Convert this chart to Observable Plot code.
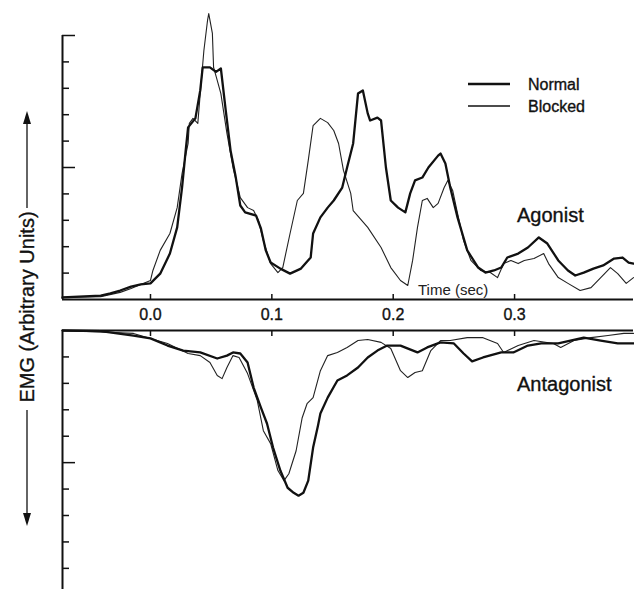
<!DOCTYPE html>
<html>
<head>
<meta charset="utf-8">
<script src="https://cdn.jsdelivr.net/npm/d3@7"></script>
<script src="https://cdn.jsdelivr.net/npm/@observablehq/plot@0.6"></script>
<style>
  html, body { margin: 0; padding: 0; background: #fff; overflow: hidden; }
  #chart { position: relative; width: 634px; height: 589px; font-family: "Liberation Sans", Arial, sans-serif; }
  #chart svg { position: absolute; left: 0; }
</style>
</head>
<body>
<div id="chart"></div>
<script>
// ---- Data (time in seconds, EMG in arbitrary units) ----
const agonistNormalT = [-0.0725,-0.041,-0.033,-0.025,-0.016,-0.008,0,0.008,0.016,0.022,0.026,0.029,0.031,0.037,0.041,0.043,0.049,0.054,0.058,0.062,0.066,0.070,0.074,0.078,0.087,0.091,0.095,0.099,0.107,0.115,0.124,0.132,0.134,0.140,0.146,0.151,0.158,0.162,0.167,0.171,0.175,0.179,0.181,0.187,0.190,0.194,0.198,0.204,0.210,0.214,0.218,0.224,0.229,0.237,0.239,0.243,0.247,0.253,0.261,0.270,0.276,0.283,0.289,0.294,0.303,0.311,0.320,0.327,0.336,0.344,0.350,0.357,0.365,0.373,0.382,0.389,0.394,0.398];
const agonistNormalV = [0.08,0.15,0.23,0.34,0.49,0.57,0.61,0.98,1.74,2.73,4.24,5.64,6.52,6.86,7.92,8.79,8.79,8.62,8.75,7.16,5.64,4.70,3.56,3.30,3.18,2.69,1.86,1.40,1.17,0.98,1.17,1.59,2.50,3.11,3.48,3.75,4.24,5.00,5.91,7.80,7.92,7.05,6.78,6.89,6.78,5.00,3.75,3.48,3.30,4.02,4.51,4.62,5.00,5.45,5.53,5.15,4.24,3.11,1.86,1.21,1.02,1.10,1.21,1.59,1.74,1.97,2.35,2.12,1.48,1.10,0.91,1.02,1.17,1.29,1.55,1.59,1.40,1.36];

const agonistBlockedT = [-0.0725,-0.041,-0.025,-0.016,-0.008,0,0.002,0.008,0.016,0.022,0.026,0.031,0.032,0.035,0.039,0.041,0.044,0.047,0.048,0.051,0.052,0.055,0.058,0.063,0.068,0.074,0.080,0.085,0.089,0.093,0.099,0.105,0.109,0.115,0.121,0.126,0.130,0.134,0.140,0.146,0.151,0.155,0.159,0.165,0.167,0.179,0.190,0.198,0.206,0.212,0.216,0.220,0.224,0.228,0.233,0.237,0.242,0.245,0.249,0.253,0.258,0.264,0.272,0.280,0.286,0.291,0.297,0.303,0.308,0.316,0.324,0.328,0.336,0.344,0.354,0.363,0.371,0.379,0.385,0.392,0.398];
const agonistBlockedV = [0.08,0.11,0.27,0.42,0.57,0.72,1.10,1.86,2.50,3.48,4.77,5.91,6.67,6.86,6.67,7.80,9.43,10.57,10.83,10.08,8.79,8.30,7.80,6.29,5.00,3.86,3.48,3.37,2.99,2.23,1.36,1.02,1.21,2.50,3.75,4.02,5.27,6.59,6.86,6.70,6.40,5.91,4.89,4.02,3.37,2.73,1.97,1.21,0.72,0.53,1.48,2.73,3.75,3.83,3.48,3.64,4.24,4.51,4.13,3.26,2.23,1.48,1.10,1.02,0.83,1.36,1.48,1.36,1.48,1.55,1.74,1.36,0.83,0.61,0.34,0.45,0.83,1.21,0.98,0.61,0.83];

const antagonistNormalT = [-0.0725,-0.041,-0.014,0,0.014,0.027,0.041,0.055,0.063,0.068,0.074,0.080,0.085,0.091,0.096,0.101,0.107,0.113,0.118,0.122,0.126,0.130,0.134,0.138,0.140,0.146,0.154,0.162,0.171,0.179,0.187,0.195,0.206,0.220,0.228,0.239,0.250,0.258,0.265,0.274,0.289,0.299,0.311,0.322,0.336,0.346,0.357,0.371,0.385,0.398];
const antagonistNormalV = [0,0.02,0.19,0.30,0.57,0.76,0.83,1.06,0.95,0.83,0.87,1.21,2.16,2.92,3.52,4.43,5.30,5.95,6.14,6.25,6.14,5.68,4.43,3.60,3.14,2.54,1.89,1.70,1.40,1.02,0.76,0.57,0.57,0.83,0.64,0.45,0.49,0.87,1.17,1.02,0.83,0.83,0.57,0.49,0.49,0.38,0.27,0.38,0.49,0.49];

const antagonistBlockedT = [-0.0725,-0.014,0.014,0.031,0.041,0.049,0.055,0.059,0.063,0.068,0.073,0.080,0.088,0.093,0.099,0.105,0.110,0.114,0.120,0.125,0.129,0.134,0.140,0.146,0.154,0.162,0.171,0.179,0.190,0.198,0.206,0.212,0.218,0.224,0.231,0.239,0.247,0.261,0.274,0.286,0.291,0.303,0.316,0.332,0.338,0.349,0.363,0.377,0.390,0.398];
const antagonistBlockedV = [0,0.11,0.49,0.87,0.95,1.21,1.70,1.82,1.40,0.95,1.02,1.63,2.65,3.79,4.28,5.30,5.68,5.42,4.55,3.30,2.77,2.54,1.52,0.95,0.83,0.64,0.38,0.34,0.45,0.68,1.52,1.78,1.59,1.52,0.76,0.38,0.38,0.27,0.27,0.49,0.83,0.57,0.38,0.49,0.64,0.38,0.27,0.19,0.11,0.11];

const xTicks = [0, 0.1, 0.2, 0.3];
const xTickLabels = ["0.0", "0.1", "0.2", "0.3"];
const agonistYTicks = [1, 2, 3, 4, 5, 6, 7, 8, 9, 10];
const agonistMajor = [5, 10];
const antagonistYTicks = [1, 2, 3, 4, 5, 6, 7, 8, 9];
const antagonistMajor = [5];
const seriesNames = ["Normal", "Blocked"];
const panelNames = ["Agonist", "Antagonist"];
const axisTitle = "EMG (Arbitrary Units)";
const xTitle = "Time (sec)";

// ---- helpers ----
const rows = (t, v) => t.map((d, i) => ({t: d, v: v[i]}));
const xDomain = [-0.0725, 0.398];
const W = 634, ML = 62, MR = 1;
const perPx = (xDomain[1] - xDomain[0]) / (W - ML - MR);
const ink = "#111";
const font = {fontFamily: "'Liberation Sans', Arial, sans-serif", background: "transparent", overflow: "visible"};

// ---- Top panel: agonist ----
const topH = 326, topMT = 35, topMB = 27;
const topPxPerUnit = (topH - topMT - topMB) / 10;
const topPlot = Plot.plot({
  width: W, height: topH, marginLeft: ML, marginRight: MR, marginTop: topMT, marginBottom: topMB,
  style: font,
  x: {domain: xDomain, axis: null},
  y: {domain: [0, 10], axis: null},
  marks: [
    Plot.ruleY([0], {stroke: ink, strokeWidth: 2}),
    Plot.ruleX([xDomain[0]], {y1: 0, y2: 10, stroke: ink, strokeWidth: 2}),
    Plot.ruleY(agonistYTicks, {y: d => d, x1: xDomain[0], x2: d => xDomain[0] + (agonistMajor.includes(d) ? 13 : 7) * perPx, stroke: ink, strokeWidth: 1.5}),
    Plot.ruleX(xTicks, {x: d => d, y1: 0, y2: 5 / topPxPerUnit, stroke: ink, strokeWidth: 1.5}),
    Plot.text(xTicks, {x: d => d, y: 0, dy: 15, text: (d, i) => xTickLabels[i], fontSize: 16, fill: ink, stroke: ink, strokeWidth: 0.35}),
    Plot.line(rows(agonistBlockedT, agonistBlockedV), {x: "t", y: "v", stroke: "#222", strokeWidth: 1.1, strokeLinejoin: "round"}),
    Plot.line(rows(agonistNormalT, agonistNormalV), {x: "t", y: "v", stroke: ink, strokeWidth: 2.3, strokeLinejoin: "round"})
  ]
});
topPlot.style.top = "0px";

// ---- Bottom panel: antagonist (inverted) ----
const botH = 263, botMT = 4, botMB = 0, botMax = 9.8;
const botPxPerUnit = (botH - botMT - botMB) / botMax;
const bottomPlot = Plot.plot({
  width: W, height: botH, marginLeft: ML, marginRight: MR, marginTop: botMT, marginBottom: botMB,
  style: font,
  x: {domain: xDomain, axis: null},
  y: {domain: [0, botMax], reverse: true, axis: null},
  marks: [
    Plot.ruleY([0], {stroke: ink, strokeWidth: 2}),
    Plot.ruleX([xDomain[0]], {y1: 0, y2: botMax, stroke: ink, strokeWidth: 2}),
    Plot.ruleY(antagonistYTicks, {y: d => d, x1: xDomain[0], x2: d => xDomain[0] + (antagonistMajor.includes(d) ? 13 : 7) * perPx, stroke: ink, strokeWidth: 1.5}),
    Plot.ruleX(xTicks, {x: d => d, y1: 0, y2: 6 / botPxPerUnit, stroke: ink, strokeWidth: 1.5}),
    Plot.line(rows(antagonistBlockedT, antagonistBlockedV), {x: "t", y: "v", stroke: "#222", strokeWidth: 1.1, strokeLinejoin: "round"}),
    Plot.line(rows(antagonistNormalT, antagonistNormalV), {x: "t", y: "v", stroke: ink, strokeWidth: 2.3, strokeLinejoin: "round"})
  ]
});
bottomPlot.style.top = "326px";

const chart = document.getElementById("chart");
chart.appendChild(topPlot);
chart.appendChild(bottomPlot);

// ---- Annotations: axis title with arrows, legend, panel names ----
const ov = d3.select(chart).append("svg")
  .attr("width", W).attr("height", 589)
  .style("top", "0px")
  .style("font-family", "'Liberation Sans', Arial, sans-serif")
  .style("pointer-events", "none");

const txt = (sel) => sel.attr("fill", ink).attr("stroke", ink).attr("stroke-width", 0.35);

const ax = 27;
ov.append("text").attr("transform", `translate(${ax},307) rotate(-90)`)
  .attr("text-anchor", "middle").attr("dominant-baseline", "central")
  .attr("font-size", 20).call(txt).text(axisTitle);
ov.append("line").attr("x1", ax).attr("x2", ax).attr("y1", 208).attr("y2", 120).attr("stroke", ink).attr("stroke-width", 1.3);
ov.append("path").attr("d", `M${ax},111L${ax - 4},124L${ax + 4},124Z`).attr("fill", ink);
ov.append("line").attr("x1", ax).attr("x2", ax).attr("y1", 410).attr("y2", 518).attr("stroke", ink).attr("stroke-width", 1.3);
ov.append("path").attr("d", `M${ax},526L${ax - 4},513L${ax + 4},513Z`).attr("fill", ink);

// legend
const legend = [{name: seriesNames[0], y: 84, w: 2.6}, {name: seriesNames[1], y: 106, w: 1.4}];
legend.forEach(l => {
  ov.append("line").attr("x1", 468).attr("x2", 510).attr("y1", l.y).attr("y2", l.y).attr("stroke", ink).attr("stroke-width", l.w);
  ov.append("text").attr("x", 528).attr("y", l.y).attr("dominant-baseline", "central")
    .attr("font-size", 16).call(txt).text(l.name);
});

ov.append("text").attr("x", 517).attr("y", 215).attr("dominant-baseline", "central")
  .attr("font-size", 20).call(txt).text(panelNames[0]);
ov.append("text").attr("x", 517).attr("y", 384).attr("dominant-baseline", "central")
  .attr("font-size", 20).call(txt).text(panelNames[1]);
ov.append("text").attr("x", 418).attr("y", 289).attr("dominant-baseline", "central")
  .attr("font-size", 15).attr("fill", "#222").text(xTitle);
</script>
</body>
</html>
